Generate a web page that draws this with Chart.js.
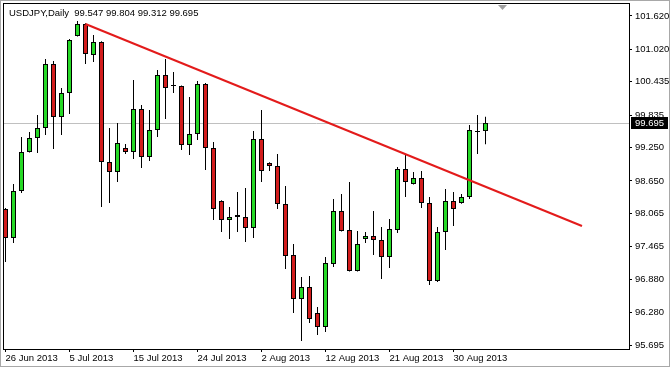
<!DOCTYPE html>
<html>
<head>
<meta charset="utf-8">
<script src="https://cdn.jsdelivr.net/npm/chart.js@4.4.0/dist/chart.umd.min.js"></script>
<style>
  body { margin: 0; background: #fff; }
  canvas { display: block; }
</style>
</head>
<body>
<canvas id="candleChart" width="671" height="369"></canvas>
<script>
// USDJPY daily candles
var symbolName = 'USDJPY,Daily';

var dates = ['26 Jun 2013', '27 Jun 2013', '28 Jun 2013', '30 Jun 2013', '1 Jul 2013', '2 Jul 2013', '3 Jul 2013', '4 Jul 2013', '5 Jul 2013', '7 Jul 2013',
    '8 Jul 2013', '9 Jul 2013', '10 Jul 2013', '11 Jul 2013', '12 Jul 2013', '14 Jul 2013', '15 Jul 2013', '16 Jul 2013', '17 Jul 2013', '18 Jul 2013',
    '19 Jul 2013', '21 Jul 2013', '22 Jul 2013', '23 Jul 2013', '24 Jul 2013', '25 Jul 2013', '26 Jul 2013', '28 Jul 2013', '29 Jul 2013', '30 Jul 2013',
    '31 Jul 2013', '1 Aug 2013', '2 Aug 2013', '4 Aug 2013', '5 Aug 2013', '6 Aug 2013', '7 Aug 2013', '8 Aug 2013', '9 Aug 2013', '11 Aug 2013',
    '12 Aug 2013', '13 Aug 2013', '14 Aug 2013', '15 Aug 2013', '16 Aug 2013', '18 Aug 2013', '19 Aug 2013', '20 Aug 2013', '21 Aug 2013', '22 Aug 2013',
    '23 Aug 2013', '25 Aug 2013', '26 Aug 2013', '27 Aug 2013', '28 Aug 2013', '29 Aug 2013', '30 Aug 2013', '1 Sep 2013', '2 Sep 2013', '3 Sep 2013', '4 Sep 2013'];

var opens = [98.144, 97.622, 98.469, 99.171, 99.423, 99.603, 100.756, 99.801, 100.233, 101.260,
    101.476, 100.918, 101.152, 98.991, 98.811, 99.243, 99.171, 99.945, 99.081, 99.567,
    100.557, 100.359, 100.359, 99.297, 99.495, 100.395, 99.243, 98.288, 97.946, 98.036,
    98.000, 97.802, 99.405, 98.973, 98.919, 98.234, 97.316, 96.524, 96.740, 96.271,
    96.019, 97.154, 98.108, 97.766, 97.028, 97.604, 97.658, 97.586, 97.280, 97.766,
    98.865, 98.595, 98.703, 98.252, 96.848, 97.730, 98.288, 98.252, 98.360, 99.531, 99.547];

var highs = [98.160, 98.595, 99.441, 99.531, 99.837, 100.846, 100.810, 100.323, 101.206, 101.530,
    101.490, 101.278, 101.165, 99.603, 99.693, 99.315, 100.467, 100.017, 99.927, 100.648,
    100.846, 100.612, 100.370, 100.161, 100.449, 100.413, 99.351, 98.300, 98.180, 98.451,
    98.523, 99.549, 99.927, 98.985, 99.135, 98.559, 97.514, 96.920, 96.938, 96.379,
    97.280, 98.324, 98.415, 98.631, 97.748, 97.730, 98.108, 97.820, 97.964, 98.901,
    99.135, 98.811, 98.829, 98.360, 97.820, 98.505, 98.451, 98.415, 99.657, 99.837, 99.804];

var lows = [97.190, 97.532, 98.433, 99.160, 99.153, 99.477, 99.225, 99.477, 99.855, 101.250,
    100.756, 100.792, 98.180, 98.252, 98.631, 99.135, 99.045, 98.883, 99.009, 99.441,
    99.765, 100.233, 99.207, 99.117, 99.387, 98.847, 97.946, 97.730, 97.604, 97.730,
    97.550, 97.622, 98.631, 98.829, 98.144, 97.064, 96.271, 95.767, 96.091, 95.875,
    95.929, 97.100, 97.740, 97.020, 97.020, 97.532, 97.316, 96.884, 97.082, 97.712,
    98.360, 98.585, 98.162, 96.776, 96.830, 97.406, 97.838, 98.240, 98.324, 99.135, 99.312];

var closes = [97.622, 98.469, 99.171, 99.423, 99.603, 100.756, 99.801, 100.233, 101.188, 101.476,
    100.936, 101.152, 98.991, 98.811, 99.333, 99.171, 99.945, 99.081, 99.567, 100.557,
    100.323, 100.359, 99.297, 99.495, 100.395, 99.243, 98.144, 97.946, 98.000, 98.000,
    97.802, 99.405, 98.829, 98.919, 98.234, 97.298, 96.524, 96.740, 96.163, 96.019,
    97.172, 98.108, 97.748, 97.028, 97.514, 97.658, 97.586, 97.280, 97.784, 98.865,
    98.631, 98.703, 98.252, 96.848, 97.730, 98.288, 98.144, 98.360, 99.567, 99.531, 99.695];

var xTickDates = ['26 Jun 2013', '5 Jul 2013', '15 Jul 2013', '24 Jul 2013', '2 Aug 2013', '12 Aug 2013', '21 Aug 2013', '30 Aug 2013'];
var priceTicks = [101.620, 101.020, 100.435, 99.835, 99.250, 98.650, 98.065, 97.465, 96.880, 96.280, 95.695];

// trend line drawn on the chart (bar position, price)
var trendBars = [10, 72.06];
var trendPrices = [101.476, 97.838];

var bullColor = '#26d926';
var bearColor = '#d21c1c';
var last = closes.length - 1;

var wickData = dates.map(function(d, i) { return {x: i, y: [lows[i], highs[i]]}; });
var bodyData = dates.map(function(d, i) { return {x: i, y: [opens[i], closes[i]]}; });
var bodyColors = dates.map(function(d, i) {
    if (closes[i] > opens[i]) return bullColor;
    if (closes[i] < opens[i]) return bearColor;
    return '#000';
});
var trendData = trendBars.map(function(b, i) { return {x: b, y: trendPrices[i]}; });

Chart.defaults.font.family = '"Liberation Sans", Arial, sans-serif';
Chart.defaults.font.size = 9.5;
Chart.defaults.color = '#000';

// MT4 style extras: frame, bid line, header text, price box
var mt4Extras = {
    id: 'mt4Extras',
    beforeDatasetsDraw: function(chart) {
        var ctx = chart.ctx, a = chart.chartArea;
        var y = Math.round(chart.scales.y.getPixelForValue(closes[last])) + 0.5;
        ctx.save();
        ctx.strokeStyle = '#c0c0c0';
        ctx.lineWidth = 1;
        ctx.beginPath();
        ctx.moveTo(a.left, y);
        ctx.lineTo(a.right, y);
        ctx.stroke();
        ctx.restore();
    },
    afterDraw: function(chart) {
        var ctx = chart.ctx, a = chart.chartArea;
        ctx.save();
        // outer window border
        ctx.strokeStyle = '#a8a8a8';
        ctx.lineWidth = 1;
        ctx.strokeRect(0.5, 0.5, chart.width - 2, chart.height - 3);
        // plot frame
        ctx.strokeStyle = '#000';
        ctx.strokeRect(a.left - 0.5, a.top - 0.5, a.right - a.left + 1, a.bottom - a.top + 1);

        // shift marker
        ctx.fillStyle = '#a0a0a0';
        ctx.beginPath();
        ctx.moveTo(498, a.top + 1);
        ctx.lineTo(507, a.top + 1);
        ctx.lineTo(502.5, a.top + 6);
        ctx.closePath();
        ctx.fill();

        // header
        ctx.font = '9.5px "Liberation Sans", Arial, sans-serif';
        ctx.fillStyle = '#000';
        ctx.textBaseline = 'middle';
        ctx.textAlign = 'left';
        var head = symbolName + '  ' + opens[last].toFixed(3) + ' ' + highs[last].toFixed(3) + ' ' +
            lows[last].toFixed(3) + ' ' + closes[last].toFixed(3);
        ctx.fillText(head, 9, 13);

        // current price box
        var py = Math.round(chart.scales.y.getPixelForValue(closes[last]));
        ctx.fillStyle = '#000';
        ctx.fillRect(a.right + 2, py - 6, 37, 12);
        ctx.fillStyle = '#fff';
        ctx.fillText(closes[last].toFixed(3), a.right + 6, py + 0.5);
        ctx.restore();
    }
};

var ctx = document.getElementById('candleChart').getContext('2d');
var chart = new Chart(ctx, {
    type: 'bar',
    data: {
        datasets: [{
            type: 'line',
            data: trendData,
            borderColor: '#e31b1b',
            borderWidth: 2,
            pointRadius: 0,
            order: 0
        }, {
            // candle bodies
            data: bodyData,
            backgroundColor: bodyColors,
            borderColor: '#000',
            borderWidth: 1,
            borderSkipped: false,
            barThickness: 5,
            minBarLength: 1,
            inflateAmount: 0,
            grouped: false,
            order: 1
        }, {
            // wicks
            data: wickData,
            backgroundColor: '#000',
            borderWidth: 0,
            barThickness: 1,
            inflateAmount: 0,
            grouped: false,
            order: 2
        }]
    },
    options: {
        responsive: false,
        animation: false,
        layout: { padding: { left: 4, top: 4, right: 0, bottom: 0 } },
        plugins: {
            legend: { display: false },
            tooltip: { enabled: false }
        },
        scales: {
            x: {
                type: 'linear',
                offset: false,
                min: -0.1875,
                max: 77.9375,
                border: { display: false },
                grid: { offset: false, drawOnChartArea: false, tickLength: 3, tickColor: '#000' },
                ticks: {
                    align: 'start',
                    autoSkip: false,
                    maxRotation: 0,
                    padding: 1,
                    callback: function(v) { return dates[v]; }
                },
                afterBuildTicks: function(scale) {
                    scale.ticks = xTickDates.map(function(d) { return {value: dates.indexOf(d)}; });
                },
                afterFit: function(scale) {
                    scale.height = 20;
                    scale.paddingLeft = 0;
                    scale.paddingRight = 0;
                }
            },
            y: {
                position: 'right',
                min: 95.623,
                max: 101.836,
                border: { display: false },
                grid: { drawOnChartArea: false, tickLength: 3, tickColor: '#000' },
                ticks: {
                    padding: 3,
                    callback: function(v) { return v.toFixed(3); }
                },
                afterBuildTicks: function(scale) {
                    scale.ticks = priceTicks.map(function(p) { return {value: p}; });
                },
                afterFit: function(scale) {
                    scale.width = 42;
                    scale.paddingTop = 0;
                    scale.paddingBottom = 0;
                }
            }
        }
    },
    plugins: [mt4Extras]
});
</script>
</body>
</html>
